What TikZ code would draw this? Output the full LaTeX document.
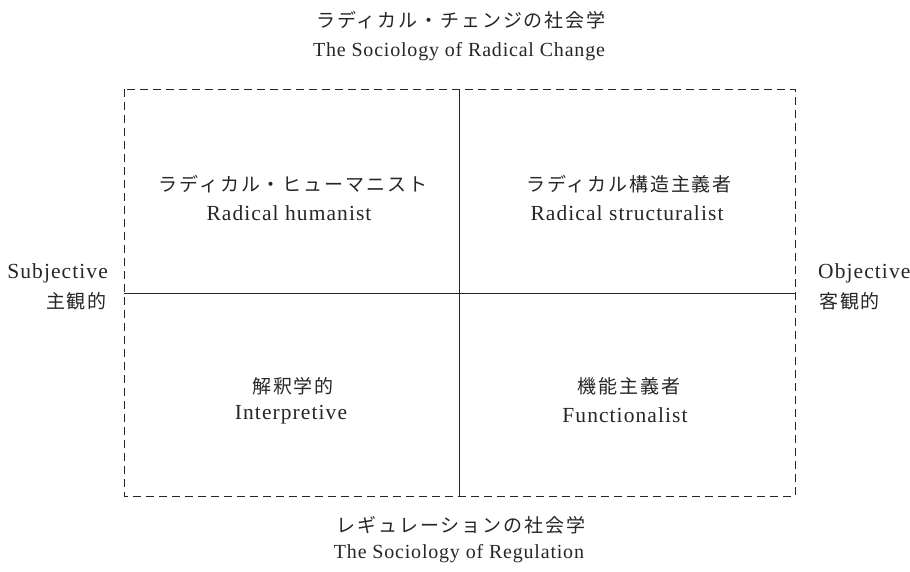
\documentclass[tikz,border=0pt]{standalone}
\usepackage{fontspec}
\setmainfont{Liberation Serif}
\newfontfamily\jpfont[LetterSpace=10]{Noto Sans CJK JP}
\newfontfamily\enfont[LetterSpace=5]{Liberation Serif}
\newfontfamily\titlefont[LetterSpace=4]{Liberation Serif}
\begin{document}
\begin{tikzpicture}[x=1pt,y=-1pt,
  en/.style={font=\enfont\fontsize{21.5}{25}\selectfont, inner sep=0pt, text=black!85},
  entitle/.style={font=\titlefont\fontsize{20}{24}\selectfont, inner sep=0pt, text=black!85},
  jp/.style={font=\jpfont\fontsize{19}{22}\selectfont, inner sep=0pt, text=black!85},
  frame/.style={draw=black!85, line width=1pt, dash pattern=on 8pt off 5pt},
  divider/.style={draw=black!85, line width=1pt}]
\useasboundingbox (0,0) rectangle (910,571);
\coordinate (tl) at (124,89);
\coordinate (br) at (795,496);
\coordinate (vt) at (459,89);
\coordinate (vb) at (459,496);
\coordinate (hl) at (124,293);
\coordinate (hr) at (795,293);
\draw[frame] (tl) rectangle (br);
\draw[divider] (vt) -- (vb);
\draw[divider] (hl) -- (hr);
% top
\node[jp] (topjp) at (461,20) {ラディカル・チェンジの社会学};
\node[entitle] (topen) at (459,52) {The Sociology of Radical Change};
% bottom
\node[jp] (botjp) at (461,525) {レギュレーションの社会学};
\node[entitle] (boten) at (459,554) {The Sociology of Regulation};
% left/right
\node[en, anchor=east] (subj) at (108,273) {Subjective};
\node[jp, anchor=east] (subjjp) at (107,301) {主観的};
\node[en, anchor=west] (obj) at (818,273) {Objective};
\node[jp, anchor=west] (objjp) at (819,301) {客観的};
% quadrants
\node[jp] (q1jp) at (293,184) {ラディカル・ヒューマニスト};
\node[en] (q1en) at (289,213) {Radical humanist};
\node[jp] (q2jp) at (629,184) {ラディカル構造主義者};
\node[en] (q2en) at (627,213) {Radical structuralist};
\node[jp] (q3jp) at (293,386) {解釈学的};
\node[en] (q3en) at (291,415) {Interpretive};
\node[jp] (q4jp) at (629,386) {機能主義者};
\node[en] (q4en) at (625,415) {Functionalist};
\end{tikzpicture}
\end{document}
